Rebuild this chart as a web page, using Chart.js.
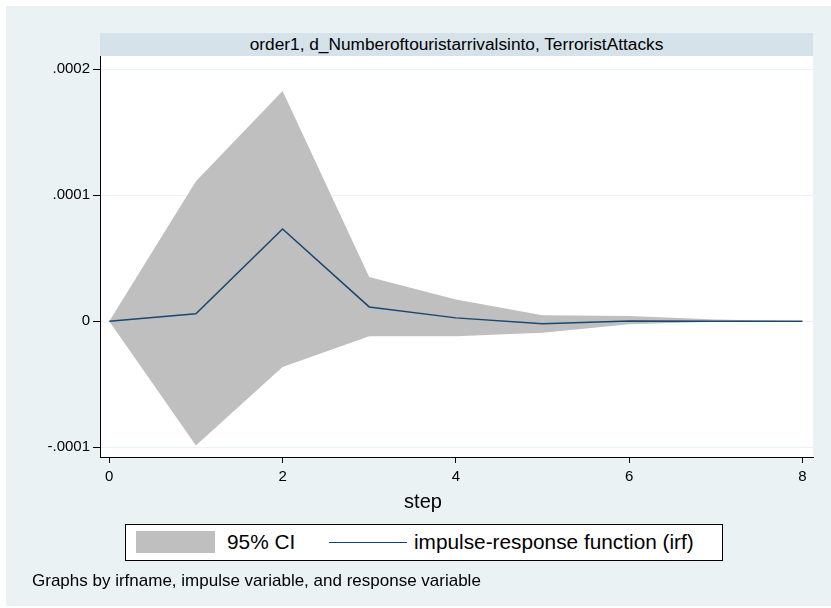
<!DOCTYPE html>
<html>
<head>
<meta charset="utf-8">
<script src="https://cdn.jsdelivr.net/npm/chart.js@4.4.1/dist/chart.umd.min.js"></script>
<style>
  body { margin: 0; background: #fff; font-family: "Liberation Sans", Arial, sans-serif; }
  #wrap { position: relative; width: 831px; height: 608px; background: #fff; overflow: hidden; }
  #bg { position: absolute; left: 6px; top: 6px; right: 0; bottom: 2px; background: #eaf2f3; }
  #strip { position: absolute; left: 100px; top: 33px; width: 713px; height: 23px; background: #d6e2e9;
    text-align: center; line-height: 23px; font-size: 17.3px; color: #000; }
  #chart { position: absolute; left: 0; top: 0; }
  #xtitle { position: absolute; left: 323px; width: 200px; top: 490px; text-align: center; font-size: 20px; }
  #legend { position: absolute; left: 125px; top: 524px; width: 596px; height: 35px; background: #fff;
    border: 1px solid #000; font-size: 20.8px; }
  #legend .sw { position: absolute; left: 10px; top: 6px; width: 79px; height: 22px; background: #bfbfbf; }
  #legend .ln { position: absolute; left: 203px; top: 17px; width: 78px; height: 0; border-top: 1.5px solid #1a476f; }
  #legend .t1 { position: absolute; left: 101px; top: 5px; }
  #legend .t2 { position: absolute; left: 288px; top: 5px; }
  #note { position: absolute; left: 32px; top: 571px; font-size: 17px; }
</style>
</head>
<body>
<div id="wrap">
  <div id="bg"></div>
  <div id="strip">order1, d_Numberoftouristarrivalsinto, TerroristAttacks</div>
  <canvas id="chart" width="831" height="608"></canvas>
  <div id="xtitle">step</div>
  <div id="legend">
    <div class="sw"></div><span class="t1">95% CI</span>
    <div class="ln"></div><span class="t2">impulse-response function (irf)</span>
  </div>
  <div id="note">Graphs by irfname, impulse variable, and response variable</div>
</div>
<script>
const steps = [0, 1, 2, 3, 4, 5, 6, 7, 8];
const irf = [0, 0.0000058, 0.0000732, 0.0000113, 0.0000026, -0.0000021, 0.0000002, 0, 0];
const ciUpper = [0, 0.0001112, 0.0001828, 0.0000351, 0.0000172, 0.0000047, 0.000004, 0.0000013, 0];
const ciLower = [0, -0.0000988, -0.0000364, -0.0000119, -0.0000119, -0.0000093, -0.0000024, -0.0000004, 0];

const xTicks = [0, 2, 4, 6, 8];
const yTicks = [-0.0001, 0, 0.0001, 0.0002];
const yTickLabels = ["-.0001", "0", ".0001", ".0002"];

function toPoints(values) {
  return steps.map((s, i) => ({ x: s, y: values[i] }));
}

// white plot region behind gridlines
const plotBackground = {
  id: "plotBackground",
  beforeDraw(chart) {
    const { ctx, chartArea: a } = chart;
    ctx.save();
    ctx.fillStyle = "#fff";
    ctx.fillRect(a.left, a.top, a.right - a.left, a.bottom - a.top);
    ctx.restore();
  },
};

const tickFont = { family: "Liberation Sans, Arial, sans-serif", size: 15 };

new Chart(document.getElementById("chart"), {
  type: "line",
  data: {
    datasets: [
      {
        label: "impulse-response function (irf)",
        data: toPoints(irf),
        borderColor: "#1a476f",
        borderWidth: 1.5,
        pointRadius: 0,
        fill: false,
        tension: 0,
      },
      {
        label: "95% CI upper",
        data: toPoints(ciUpper),
        borderWidth: 0,
        borderColor: "rgba(0,0,0,0)",
        backgroundColor: "#bfbfbf",
        pointRadius: 0,
        fill: "+1",
        tension: 0,
      },
      {
        label: "95% CI lower",
        data: toPoints(ciLower),
        borderWidth: 0,
        borderColor: "rgba(0,0,0,0)",
        pointRadius: 0,
        fill: false,
        tension: 0,
      },
    ],
  },
  options: {
    responsive: false,
    animation: false,
    devicePixelRatio: 1,
    layout: { padding: { left: 0, right: 18, top: 56, bottom: 111 } },
    plugins: { legend: { display: false }, tooltip: { enabled: false } },
    scales: {
      x: {
        type: "linear",
        min: -0.107,
        max: 8.122,
        afterBuildTicks: (scale) => { scale.ticks = xTicks.map((v) => ({ value: v })); },
        afterFit: (scale) => { scale.height = 40; },
        ticks: { color: "#000", font: tickFont, padding: 5 },
        grid: { drawOnChartArea: false, drawTicks: true, tickLength: 6, tickColor: "#000" },
        border: { display: true, color: "#000", width: 1 },
      },
      y: {
        min: -0.0001079,
        max: 0.0002106,
        afterBuildTicks: (scale) => { scale.ticks = yTicks.map((v) => ({ value: v })); },
        afterFit: (scale) => { scale.width = 100; },
        ticks: {
          color: "#000",
          font: tickFont,
          padding: 3,
          callback: (value) => yTickLabels[yTicks.indexOf(value)] ?? "",
        },
        grid: { color: "#eaf2f3", lineWidth: 1, drawTicks: true, tickLength: 7, tickColor: "#000" },
        border: { display: true, color: "#000", width: 1 },
      },
    },
  },
  plugins: [plotBackground],
});
</script>
</body>
</html>
